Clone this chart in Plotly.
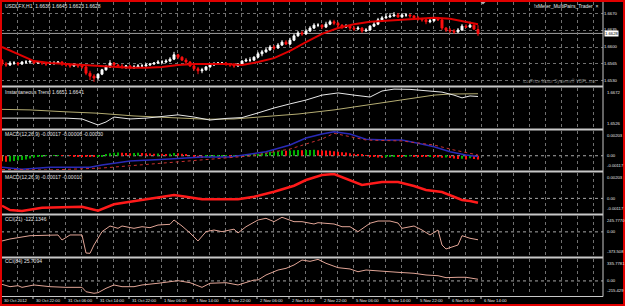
import plotly.graph_objects as go

# ---------------- data ----------------
bars = list(range(120))

open_ = [1.6573,1.6565,1.6563,1.6567,1.6567,1.6565,1.6569,1.6569,1.6571,1.6567,
         1.6569,1.6567,1.6565,1.6567,1.6567,1.6569,1.6565,1.6563,1.6561,1.6563,
         1.6561,1.6559,1.6546,1.6540,1.6536,1.6544,1.6553,1.6559,1.6567,1.6563,
         1.6561,1.6559,1.6561,1.6557,1.6559,1.6561,1.6561,1.6563,1.6565,1.6567,
         1.6569,1.6569,1.6571,1.6575,1.6584,1.6579,1.6573,1.6569,1.6561,1.6555,
         1.6551,1.6553,1.6559,1.6563,1.6565,1.6567,1.6567,1.6565,1.6563,1.6561,
         1.6565,1.6571,1.6573,1.6573,1.6579,1.6586,1.6590,1.6594,1.6600,1.6598,
         1.6604,1.6610,1.6606,1.6614,1.6623,1.6629,1.6627,1.6633,1.6639,1.6645,
         1.6645,1.6641,1.6647,1.6652,1.6649,1.6645,1.6641,1.6643,1.6639,1.6637,
         1.6639,1.6633,1.6635,1.6643,1.6647,1.6656,1.6660,1.6662,1.6664,1.6666,
         1.6662,1.6666,1.6666,1.6664,1.6660,1.6658,1.6656,1.6652,1.6654,1.6658,
         1.6656,1.6639,1.6635,1.6633,1.6631,1.6635,1.6643,1.6641,1.6645,1.6636]
high = [1.6575,1.6569,1.6571,1.6571,1.6569,1.6571,1.6573,1.6573,1.6573,1.6571,
        1.6571,1.6569,1.6571,1.6571,1.6571,1.6571,1.6567,1.6565,1.6567,1.6565,
        1.6565,1.6561,1.6551,1.6544,1.6546,1.6555,1.6563,1.6573,1.6569,1.6565,
        1.6565,1.6563,1.6563,1.6563,1.6565,1.6565,1.6567,1.6567,1.6569,1.6573,
        1.6573,1.6575,1.6579,1.6590,1.6586,1.6581,1.6577,1.6571,1.6563,1.6559,
        1.6557,1.6561,1.6565,1.6569,1.6569,1.6569,1.6569,1.6567,1.6567,1.6567,
        1.6573,1.6577,1.6579,1.6581,1.6590,1.6594,1.6598,1.6604,1.6604,1.6608,
        1.6614,1.6614,1.6619,1.6627,1.6633,1.6633,1.6637,1.6643,1.6649,1.6649,
        1.6647,1.6652,1.6656,1.6656,1.6652,1.6647,1.6647,1.6645,1.6643,1.6643,
        1.6641,1.6639,1.6645,1.6652,1.6660,1.6664,1.6668,1.6670,1.6672,1.6670,
        1.6670,1.6670,1.6668,1.6666,1.6664,1.6660,1.6658,1.6658,1.6662,1.6662,
        1.6660,1.6641,1.6639,1.6637,1.6639,1.6647,1.6647,1.6652,1.6647,1.6645]
low = [1.6561,1.6559,1.6561,1.6563,1.6561,1.6563,1.6565,1.6565,1.6565,1.6565,
       1.6563,1.6561,1.6563,1.6563,1.6565,1.6561,1.6559,1.6557,1.6559,1.6557,
       1.6555,1.6542,1.6532,1.6528,1.6532,1.6542,1.6551,1.6557,1.6561,1.6557,
       1.6555,1.6555,1.6555,1.6555,1.6557,1.6557,1.6559,1.6561,1.6563,1.6565,
       1.6565,1.6567,1.6569,1.6573,1.6575,1.6571,1.6565,1.6559,1.6551,1.6544,
       1.6546,1.6551,1.6557,1.6561,1.6563,1.6563,1.6561,1.6559,1.6557,1.6559,
       1.6563,1.6569,1.6569,1.6571,1.6577,1.6581,1.6588,1.6592,1.6594,1.6596,
       1.6602,1.6604,1.6604,1.6612,1.6621,1.6623,1.6625,1.6631,1.6637,1.6641,
       1.6637,1.6639,1.6645,1.6645,1.6641,1.6637,1.6639,1.6635,1.6633,1.6635,
       1.6629,1.6631,1.6633,1.6641,1.6645,1.6654,1.6658,1.6660,1.6662,1.6660,
       1.6660,1.6662,1.6660,1.6658,1.6654,1.6652,1.6647,1.6649,1.6652,1.6654,
       1.6635,1.6631,1.6629,1.6627,1.6629,1.6633,1.6639,1.6639,1.6635,1.6623]
close = [1.6565,1.6563,1.6567,1.6567,1.6565,1.6569,1.6569,1.6571,1.6567,1.6569,
         1.6567,1.6565,1.6567,1.6567,1.6569,1.6565,1.6563,1.6561,1.6563,1.6561,
         1.6559,1.6546,1.6540,1.6536,1.6544,1.6553,1.6559,1.6567,1.6563,1.6561,
         1.6559,1.6561,1.6557,1.6559,1.6561,1.6561,1.6563,1.6565,1.6567,1.6569,
         1.6569,1.6571,1.6575,1.6584,1.6579,1.6573,1.6569,1.6561,1.6555,1.6551,
         1.6553,1.6559,1.6563,1.6565,1.6567,1.6567,1.6565,1.6563,1.6561,1.6565,
         1.6571,1.6573,1.6573,1.6579,1.6586,1.6590,1.6594,1.6600,1.6598,1.6604,
         1.6610,1.6606,1.6614,1.6623,1.6629,1.6627,1.6633,1.6639,1.6645,1.6645,
         1.6641,1.6647,1.6652,1.6649,1.6645,1.6641,1.6643,1.6639,1.6637,1.6639,
         1.6633,1.6635,1.6643,1.6647,1.6656,1.6660,1.6662,1.6664,1.6666,1.6662,
         1.6666,1.6666,1.6664,1.6660,1.6658,1.6656,1.6652,1.6654,1.6658,1.6656,
         1.6639,1.6635,1.6633,1.6631,1.6635,1.6643,1.6641,1.6645,1.6637,1.6628]

ma_x = [0,4,8,12,16,20,24,28,32,36,40,44,48,52,56,60,64,68,72,76,80,84,88,92,96,100,104,108,112,116,119]
ma = [1.6600,1.6586,1.6571,1.6567,1.6565,1.6563,1.6561,1.6559,1.6557,1.6557,1.6559,1.6563,1.6565,1.6565,1.6565,
      1.6563,1.6569,1.6577,1.6592,1.6610,1.6627,1.6639,1.6647,1.6652,1.6654,1.6656,1.6658,1.6660,1.6658,1.6652,1.6647]

it_x = [0,4,8,12,16,20,24,26,28,32,36,40,44,48,52,56,60,64,68,72,76,80,84,88,92,95,98,102,106,110,113,115,117,119]
it_trend = [1.6562,1.6562,1.6561,1.6562,1.6562,1.6559,1.6537,1.6548,1.6566,1.6559,1.6562,1.6568,1.6574,1.6566,1.6555,
            1.6561,1.6564,1.6581,1.6599,1.6614,1.6628,1.6646,1.6654,1.6646,1.6639,1.6661,1.6668,1.6667,1.6661,1.6657,
            1.6646,1.6636,1.6643,1.6641]
trig_x = [0,7,16,24,33,41,51,58,66,74,83,91,100,108,112,119]
it_trigger = [1.6594,1.6592,1.6585,1.6580,1.6570,1.6565,1.6558,1.6559,1.6567,1.6577,1.6592,1.6610,1.6628,1.6646,1.6650,1.6651]

macd_hist = [-0.00045,-0.00050,-0.00048,-0.00044,-0.00040,-0.00035,-0.00030,-0.00022,-0.00014,-0.00008,
             -0.00004,-0.00002,0.00000,0.00002,0.00003,0.00002,0.00000,-0.00002,-0.00003,-0.00004,
             -0.00005,-0.00007,-0.00009,-0.00010,-0.00007,-0.00003,0.00008,0.00020,0.00025,0.00027,
             0.00025,0.00023,0.00021,0.00023,0.00025,0.00023,0.00021,0.00018,0.00017,0.00018,
             0.00017,0.00015,0.00017,0.00023,0.00021,0.00017,0.00010,0.00000,-0.00010,-0.00017,
             -0.00018,-0.00015,-0.00010,-0.00007,-0.00004,-0.00003,-0.00002,-0.00003,-0.00003,-0.00002,
             0.00002,0.00004,0.00007,0.00010,0.00015,0.00021,0.00025,0.00032,0.00033,0.00037,
             0.00042,0.00040,0.00043,0.00046,0.00048,0.00046,0.00047,0.00048,0.00050,0.00046,
             0.00043,0.00042,0.00040,0.00037,0.00033,0.00029,0.00027,0.00021,0.00017,0.00012,
             0.00007,0.00002,-0.00004,-0.00010,-0.00015,-0.00017,-0.00012,-0.00007,-0.00003,-0.00004,
             -0.00005,-0.00003,-0.00002,-0.00004,-0.00005,-0.00007,-0.00008,-0.00007,-0.00010,-0.00012,
             -0.00017,-0.00015,-0.00018,-0.00023,-0.00027,-0.00025,-0.00031,-0.00021,-0.00027,-0.00030]
macd_x = [0,5,12,22,25,32,42,50,57,66,72,76,80,83,87,91,96,100,104,108,112,116,119]
macd_main = [-0.00095,-0.00111,-0.00095,-0.00095,-0.00076,-0.00043,-0.00027,-0.00010,-0.00010,0.00033,0.00088,
             0.00146,0.00178,0.00197,0.00178,0.00135,0.00129,0.00129,0.00102,0.00074,0.00033,0.00006,-0.00006]
sig_x = [0,12,25,37,50,62,72,80,83,91,100,108,113,119]
macd_signal = [-0.00113,-0.00117,-0.00101,-0.00068,-0.00035,-0.00002,0.00055,0.00137,0.00184,0.00129,
               0.00121,0.00088,0.00047,0.00006]

macd2_x = [0,2,5,10,20,24,28,35,43,46,50,59,63,68,73,76,80,83,87,90,95,99,103,106,110,115,117,119]
macd2 = [-0.00059,-0.00093,-0.00101,-0.00075,-0.00067,-0.00099,-0.00047,-0.00013,0.00027,0.00013,-0.00007,
         -0.00007,0.00013,0.00053,0.00101,0.00147,0.00187,0.00195,0.00147,0.00107,0.00131,0.00131,0.00099,
         0.00067,0.00051,-0.00013,-0.00021,-0.00035]

cci21_x = [0,2,7,14,15,17,20,21,22,23,25,27,29,30,33,35,37,39,42,43,45,47,49,51,53,55,58,59,61,64,
           66,68,70,73,75,78,79,83,85,87,89,92,94,97,99,100,103,105,107,109,110,111,114,115,117,119]
cci21 = [-141,-110,-59,-48,-126,-48,-48,-327,-332,-203,3,91,55,91,55,80,65,106,117,184,
         91,-17,-141,3,29,3,42,-17,80,184,210,158,226,158,158,122,142,122,80,80,
         3,133,168,168,137,55,91,29,-48,29,-203,-265,-203,-59,-99,-122.1346]

cci84_x = [0,2,4,5,8,12,16,20,21,23,24,26,28,30,33,35,39,43,44,47,50,52,56,59,63,64,66,69,71,73,
           75,77,79,81,84,87,89,91,96,99,103,106,109,111,114,116,119]
cci84 = [-52,-88,-73,-98,-62,-88,-98,-98,-165,-189,-180,-113,-62,-88,-88,-62,-36,-12,4,-27,
         -98,-36,-27,-62,14,14,91,167,193,244,320,300,330,270,203,183,141,167,152,132,
         117,91,80,50,56,56,25.7094]

time_labels = ["30 Oct 2012", "30 Oct 22:00", "31 Oct 06:00", "31 Oct 14:00", "31 Oct 22:00",
               "1 Nov 06:00", "1 Nov 14:00", "1 Nov 22:00", "2 Nov 06:00", "2 Nov 14:00",
               "2 Nov 22:00", "5 Nov 06:00", "5 Nov 14:00", "5 Nov 22:00", "6 Nov 06:00", "6 Nov 14:00"]

price_ticks = [1.6670, 1.6635, 1.6600, 1.6565, 1.6530]
price_tick_text = ["1.6670", "1.6635", "1.6600", "1.6565", "1.6530"]
last_price = 1.6628

panel_titles = ["USDLFX,H1  1.6636 1.6645 1.6623 1.6628",
                "Instantaneous Trend 1.6651 1.6641",
                "MACD(12,26,9) -0.00017 -0.00006 -0.00030",
                "MACD(12,26,9) -0.00017 -0.00010",
                "CCI(21) -122.1346",
                "CCI(84) 25.7094"]

# ---------------- styling / layout ----------------
FONT = "Liberation Sans"
GRID = "#707070"
TXT = "#e6e6e6"
W, H = 625, 306
L, R, T, B = 1, 22, 2, 10
PW, PH = W - L - R, H - T - B


def py(y):   # pixel row -> paper y
    return (H - B - y) / PH


def px(x):   # pixel column -> paper x
    return (x - L) / PW


domains = [(85, 2), (128, 88), (170, 131), (213, 173), (256, 216), (295, 259)]
ranges = [[1.652172, 1.66927], [1.6526, 1.6672], [-0.00117, 0.00203],
          [-0.00117, 0.00203], [-373.508, 245.777], [-215.429, 335.7781]]

XR = [-0.25, 150.25]
grid_vals = [4 * k - 0.25 for k in range(38)]
label_vals = [8 * k - 0.25 for k in range(len(time_labels))]

fig = go.Figure()

fig.add_trace(go.Candlestick(
    x=bars, open=open_, high=high, low=low, close=close,
    increasing=dict(line=dict(color="#ffffff", width=1), fillcolor="#ffffff"),
    decreasing=dict(line=dict(color="#ff1010", width=1), fillcolor="#ff1010"),
    whiskerwidth=0, xaxis="x", yaxis="y"))
fig.add_trace(go.Scatter(x=ma_x, y=ma, mode="lines", line=dict(color="#e00000", width=2),
                         xaxis="x", yaxis="y"))

fig.add_trace(go.Scatter(x=trig_x, y=it_trigger, mode="lines", line=dict(color="#b5ad72", width=1),
                         xaxis="x2", yaxis="y2"))
fig.add_trace(go.Scatter(x=it_x, y=it_trend, mode="lines", line=dict(color="#e8e8e8", width=1),
                         xaxis="x2", yaxis="y2"))

hist_colors = ["#d08000"] + ["#00b000" if macd_hist[i] >= macd_hist[i - 1] else "#ff1010"
                             for i in range(1, len(macd_hist))]
fig.add_trace(go.Bar(x=bars, y=macd_hist, width=0.5, marker=dict(color=hist_colors, line=dict(width=0)),
                     xaxis="x3", yaxis="y3"))
fig.add_trace(go.Scatter(x=macd_x, y=macd_main, mode="lines", line=dict(color="#2a2ab8", width=1.5),
                         xaxis="x3", yaxis="y3"))
fig.add_trace(go.Scatter(x=sig_x, y=macd_signal, mode="lines", line=dict(color="#c83030", width=1, dash="dot"),
                         xaxis="x3", yaxis="y3"))

fig.add_trace(go.Scatter(x=macd2_x, y=macd2, mode="lines", line=dict(color="#ff1a1a", width=2.5),
                         xaxis="x4", yaxis="y4"))
fig.add_trace(go.Scatter(x=cci21_x, y=cci21, mode="lines", line=dict(color="#e2a596", width=1),
                         xaxis="x5", yaxis="y5"))
fig.add_trace(go.Scatter(x=cci84_x, y=cci84, mode="lines", line=dict(color="#e2a596", width=1),
                         xaxis="x6", yaxis="y6"))

layout = dict(
    width=W, height=H,
    margin=dict(l=L, r=R, t=T, b=B, autoexpand=False),
    paper_bgcolor="#000000", plot_bgcolor="#000000",
    showlegend=False, hovermode=False,
    font=dict(family=FONT, color=TXT, size=5),
)

for i in range(6):
    n = "" if i == 0 else str(i + 1)
    bot, top = domains[i]
    xa = dict(domain=[0, 1], anchor="y" + n, range=XR, tickmode="array", tickvals=grid_vals,
              showgrid=True, gridcolor=GRID, griddash="dot", gridwidth=1, zeroline=False,
              showline=False, ticks="", showticklabels=False, fixedrange=True)
    if i == 0:
        xa["rangeslider"] = dict(visible=False)
    ya = dict(domain=[py(bot), py(top)], anchor="x" + n, range=ranges[i], side="right",
              showgrid=False, zeroline=False, showline=False, ticks="", showticklabels=False,
              fixedrange=True)
    if i == 0:
        ya.update(showgrid=True, gridcolor=GRID, griddash="dot", tickmode="array",
                  tickvals=price_ticks, ticktext=price_tick_text, showticklabels=True,
                  tickfont=dict(size=4.2, color=TXT, family=FONT))
    layout["xaxis" + n] = xa
    layout["yaxis" + n] = ya

shapes = []
shapes.append(dict(type="line", xref="x domain", yref="y", x0=0, x1=1, y0=last_price, y1=last_price,
                   line=dict(color="#a0a0a0", width=1), layer="below"))
for n in ["3", "4", "5", "6"]:
    shapes.append(dict(type="line", xref="x%s domain" % n, yref="y" + n, x0=0, x1=1, y0=0, y1=0,
                       line=dict(color="#a8a8a8", width=1, dash="dot"), layer="below"))
for ysep in [86.5, 129.5, 171.5, 214.5, 257.5]:
    shapes.append(dict(type="line", xref="paper", yref="paper", x0=0, x1=1, y0=py(ysep), y1=py(ysep),
                       line=dict(color="#c8c8c8", width=2)))
shapes.append(dict(type="line", xref="paper", yref="paper", x0=0, x1=1, y0=py(296.5), y1=py(296.5),
                   line=dict(color="#c8c8c8", width=1)))
shapes.append(dict(type="line", xref="paper", yref="paper", x0=1, x1=1, y0=py(296.5), y1=py(1),
                   line=dict(color="#c8c8c8", width=1)))
# small tick marks at the time labels
for v in label_vals:
    shapes.append(dict(type="line", xref="x6", yref="paper", x0=v, x1=v, y0=py(296.5), y1=py(299),
                       line=dict(color="#c8c8c8", width=1)))
shapes.append(dict(type="path", xref="paper", yref="paper",
                   path="M %f,%f L %f,%f L %f,%f Z" % (px(480), py(1.5), px(486), py(1.5), px(483), py(4.5)),
                   fillcolor="#b0b0b0", line=dict(width=0)))
shapes.append(dict(type="rect", xref="paper", yref="paper", x0=px(1), x1=px(624), y0=py(305), y1=py(1),
                   line=dict(color="#e00000", width=2), fillcolor="rgba(0,0,0,0)"))
layout["shapes"] = shapes

ann = []
title_rows = [6, 92.3, 134, 177.3, 219, 261]
for t, yrow in zip(panel_titles, title_rows):
    ann.append(dict(text=t, xref="paper", yref="paper", x=px(3), y=py(yrow), xanchor="left",
                    yanchor="middle", showarrow=False, font=dict(size=5, color=TXT, family=FONT)))
ann.append(dict(text="!xMeter_MultiPairs_Trader  \u00d7", xref="paper", yref="paper", x=px(600), y=py(6),
                xanchor="right", yanchor="middle", showarrow=False, font=dict(size=5, color=TXT, family=FONT)))
ann.append(dict(text="ico Price Motor Systems\u00ae VBPL.xxx", xref="paper", yref="paper", x=px(598),
                y=py(81), xanchor="right", yanchor="middle", showarrow=False,
                font=dict(size=4.5, color="#7a7a7a", family=FONT)))
ann.append(dict(text=str(last_price), xref="paper", yref="y", x=px(604), y=last_price, xanchor="left",
                yanchor="middle", showarrow=False, bgcolor="#ffffff", borderpad=0,
                font=dict(size=4.2, color="#000000", family=FONT)))
# time axis labels, left-aligned at their bar
for v, txt in zip(label_vals, time_labels):
    ann.append(dict(text=txt, xref="x6", yref="paper", x=v + 0.3, y=py(300.5), xanchor="left",
                    yanchor="middle", showarrow=False, font=dict(size=4.2, color=TXT, family=FONT)))

scale_labels = [("y2", [(1.6672, "1.6672", "top"), (1.6526, "1.6526", "bottom")]),
                ("y3", [(0.00203, "0.00203", "top"), (0, "0.00", "middle"), (-0.00117, "-0.00117", "bottom")]),
                ("y4", [(0.00203, "0.00203", "top"), (0, "0.00", "middle"), (-0.00117, "-0.00117", "bottom")]),
                ("y5", [(245.777, "245.7770", "top"), (0, "0.00", "middle"), (-373.508, "-373.508", "bottom")]),
                ("y6", [(335.7781, "335.7781", "top"), (0, "0.00", "middle"), (-215.429, "-215.429", "bottom")])]
for yref, items in scale_labels:
    for val, txt, anc in items:
        ann.append(dict(text=txt, xref="paper", yref=yref, x=px(605), y=val, xanchor="left", yanchor=anc,
                        showarrow=False, font=dict(size=4.2, color=TXT, family=FONT)))
layout["annotations"] = ann

fig.update_layout(**layout)
fig.write_html("out.html")
